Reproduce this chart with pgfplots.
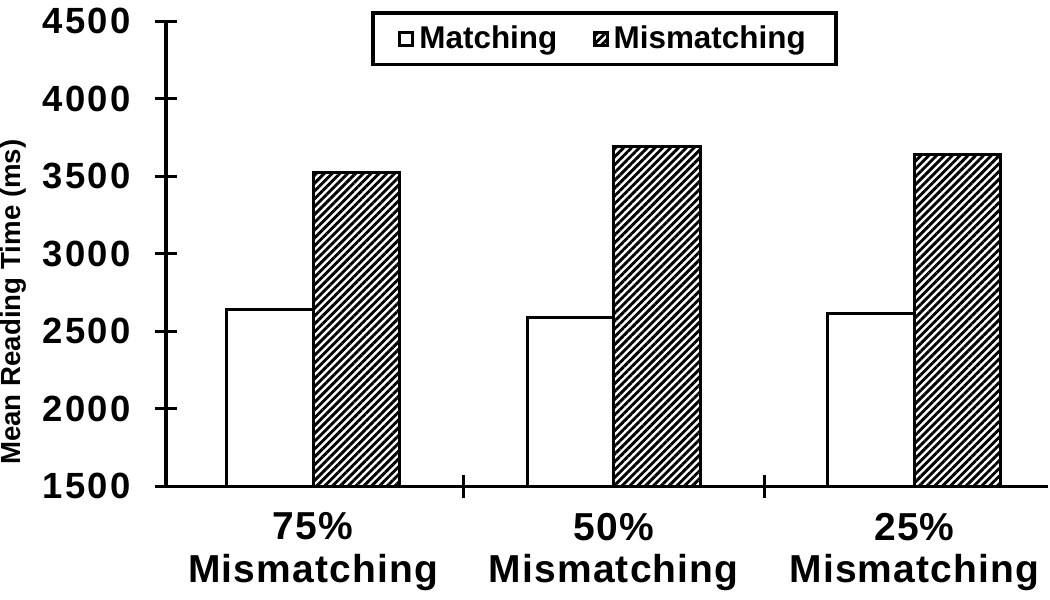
\documentclass[border=0pt]{standalone}
\usepackage{fontspec}
\setmainfont{Liberation Sans}
\usepackage{pgfplots}
\pgfplotsset{compat=1.18}
\usetikzlibrary{patterns.meta}

\tikzset{hatch/.style={pattern={Lines[angle=45,distance=2.2pt,line width=1.15pt]}}}

\begin{document}
\begin{tikzpicture}
\begin{axis}[
    scale only axis,
    width=351pt, height=185pt,
    ybar=0pt, bar width=34.4pt,
    ymin=1500, ymax=4500,
    ytick={1500,2000,...,4500},
    xmin=-0.49, xmax=2.445,
    axis lines*=left,
    axis line style={line width=1.4pt},
    tick style={line width=1.2pt, black},
    tick align=center,
    major tick length=9pt,
    xtick={0.5,1.5}, xticklabels={},
    extra x ticks={0,1,2},
    extra x tick labels={75\%\\Mismatching,50\%\\Mismatching,25\%\\Mismatching},
    extra x tick style={major tick length=0pt},
    xticklabel style={align=center, font=\fontsize{15.5}{17}\selectfont\bfseries\addfontfeature{LetterSpace=3}, yshift=-7pt},
    yticklabel style={font=\fontsize{14.5}{16}\selectfont\bfseries\addfontfeature{LetterSpace=6}, xshift=-6pt},
    /pgf/number format/assume math mode=true,
    /pgf/number format/1000 sep={},
    ylabel={Mean Reading Time (ms)},
    ylabel style={font=\fontsize{11}{12}\selectfont\bfseries, inner sep=0pt, at={(axis description cs:-0.158,0.396)}, anchor=south},
    legend columns=2,
    legend style={at={(0.5,1)}, anchor=north, yshift=4pt, xshift=-1pt, draw=black, line width=1.4pt,
        font=\fontsize{12.5}{14}\selectfont\bfseries,
        /tikz/every even column/.append style={column sep=12pt},
        inner xsep=10pt, inner ysep=3pt},
    legend image code/.code={\draw[#1, line width=1.2pt] (0pt,-2.6pt) rectangle (5.2pt,2.6pt);},
]
\addplot[draw=black, line width=1.2pt, fill=white] coordinates {(0,2642) (1,2590) (2,2616)};
\addlegendentry{Matching}
\addplot[draw=black, line width=1.2pt, hatch] coordinates {(0,3525) (1,3694) (2,3642)};
\addlegendentry{Mismatching}
\end{axis}
\end{tikzpicture}
\end{document}
